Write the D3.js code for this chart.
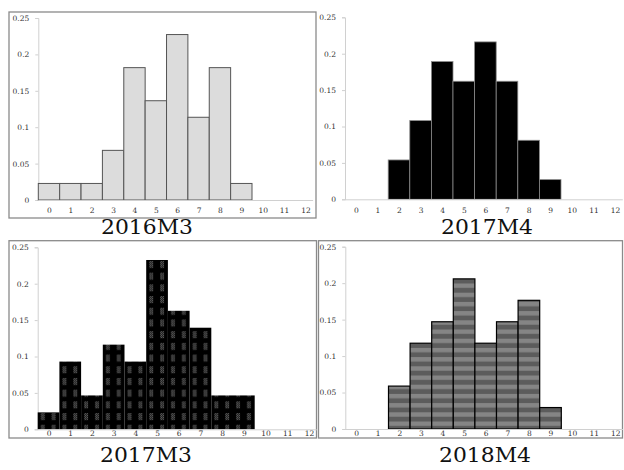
<!DOCTYPE html>
<html><head><meta charset="utf-8">
<script src="https://cdn.jsdelivr.net/npm/d3@7"></script>
<style>body{margin:0;background:#fff}svg{display:block}</style>
</head><body><svg id="c" width="624" height="470"></svg>
<script>
// Data
const bins = [0,1,2,3,4,5,6,7,8,9,10,11,12];
const yTicks = [0, 0.05, 0.1, 0.15, 0.2, 0.25];
const yTickLabels = ["0","0.05","0.1","0.15","0.2","0.25"];
const titles = ["2016M3","2017M4","2017M3","2018M4"];
const v2016M3 = [1/44,1/44,1/44,3/44,8/44,6/44,10/44,5/44,8/44,1/44,0,0,0];
const v2017M4 = [0,0,2/37,4/37,7/37,6/37,8/37,6/37,3/37,1/37,0,0,0];
const v2017M3 = [1/43,4/43,2/43,5/43,4/43,10/43,7/43,6/43,2/43,2/43,0,0,0];
const v2018M4 = [0,0,2/34,4/34,5/34,7/34,4/34,5/34,6/34,1/34,0,0,0];
const seriesValues = [v2016M3, v2017M4, v2017M3, v2018M4];

// Layout
const panels = [
  {x0:38.3, w:21.37, y0:200, y1:18, pad:8, border:[9,12,307,206], tx:147, ty:234, fill:"#dcdcdc", stroke:"#555", sw:1},
  {x0:345, w:21.6, y0:199.3, y1:17.3, pad:8, border:null, tx:487, ty:234, fill:"#000", stroke:"#8a8a8a", sw:0.8},
  {x0:37.7, w:21.7, y0:429.3, y1:247.3, pad:1.5, border:[9,240.7,307.5,197.3], tx:146, ty:462, fill:"url(#chk)", stroke:"none", sw:0},
  {x0:345.3, w:21.6, y0:429, y1:246.7, pad:1.5, border:[318.5,240.7,304,197.3], tx:485, ty:462, fill:"url(#stripe)", stroke:"#000", sw:1.2}
];

const svg = d3.select("#c");
const defs = svg.append("defs");
// checker pattern for 2017M3
const chk = defs.append("pattern").attr("id","chk").attr("patternUnits","userSpaceOnUse")
  .attr("x",37.7).attr("y",247.3).attr("width",10.85).attr("height",11.7);
chk.append("rect").attr("width",10.85).attr("height",11.7).attr("fill","#000");
const dith = defs.append("pattern").attr("id","dith").attr("patternUnits","userSpaceOnUse")
  .attr("width",2).attr("height",2);
dith.append("rect").attr("width",2).attr("height",2).attr("fill","#0a0a0a");
dith.append("rect").attr("width",1).attr("height",1).attr("fill","#666");
dith.append("rect").attr("x",1).attr("y",1).attr("width",1).attr("height",1).attr("fill","#666");
chk.append("rect").attr("x",3).attr("y",2).attr("width",4).attr("height",7).attr("fill","url(#dith)");
// stripe pattern for 2018M4
const st = defs.append("pattern").attr("id","stripe").attr("patternUnits","userSpaceOnUse")
  .attr("x",0).attr("y",246.7).attr("width",10).attr("height",9.2);
st.append("rect").attr("width",10).attr("height",9.2).attr("fill","#5c5c5c");
st.append("rect").attr("y",0).attr("width",10).attr("height",4.4).attr("fill","#858585");

const serif = "'DejaVu Serif', 'Liberation Serif', serif";

panels.forEach((p, i) => {
  const vals = seriesValues[i];
  const x = d3.scaleLinear().domain([-0.5, 12.5]).range([p.x0, p.x0 + 13*p.w]);
  const y = d3.scaleLinear().domain([0, 0.25]).range([p.y0, p.y1]);
  const g = svg.append("g");
  if (p.border) {
    g.append("rect").attr("x",p.border[0]).attr("y",p.border[1]).attr("width",p.border[2]).attr("height",p.border[3])
      .attr("fill","none").attr("stroke","#8a8a8a").attr("stroke-width",1.3);
  }
  // y axis
  const ya = d3.axisLeft(y).tickValues(yTicks).tickFormat((d,j)=>yTickLabels[j]).tickSize(3).tickPadding(6);
  const yg = g.append("g").attr("transform",`translate(${p.x0},0)`).call(ya);
  yg.select(".domain").attr("stroke","#d0d0d0");
  yg.selectAll(".tick line").attr("stroke","#d0d0d0");
  yg.selectAll("text").attr("font-family",serif).attr("font-size",7.5).attr("fill","#333");
  // bars
  g.selectAll("rect.bar").data(bins.filter((b,k)=>vals[k]>0)).join("rect").attr("class","bar")
    .attr("x", d => x(d-0.5)).attr("width", d => x(d+0.5)-x(d-0.5))
    .attr("y", d => y(vals[d])).attr("height", d => y(0)-y(vals[d]))
    .attr("fill", p.fill).attr("stroke", p.stroke).attr("stroke-width", p.sw);
  // x axis
  const xa = d3.axisBottom(x).tickValues(bins).tickFormat(d3.format("d")).tickSize(0).tickPadding(p.pad);
  const xg = g.append("g").attr("transform",`translate(0,${p.y0})`).call(xa);
  xg.select(".domain").attr("stroke","#d0d0d0").attr("d",`M${p.x0},0.5H${x(12.5)-3}`);
  xg.selectAll("text").attr("font-family",serif).attr("font-size",7.5).attr("fill","#333");
  // title
  g.append("text").attr("x",p.tx).attr("y",p.ty).attr("text-anchor","middle")
    .attr("font-family",serif).attr("font-size",20).attr("fill","#111")
    .attr("textLength",92).attr("lengthAdjust","spacingAndGlyphs").text(titles[i]);
});
</script></body></html>
